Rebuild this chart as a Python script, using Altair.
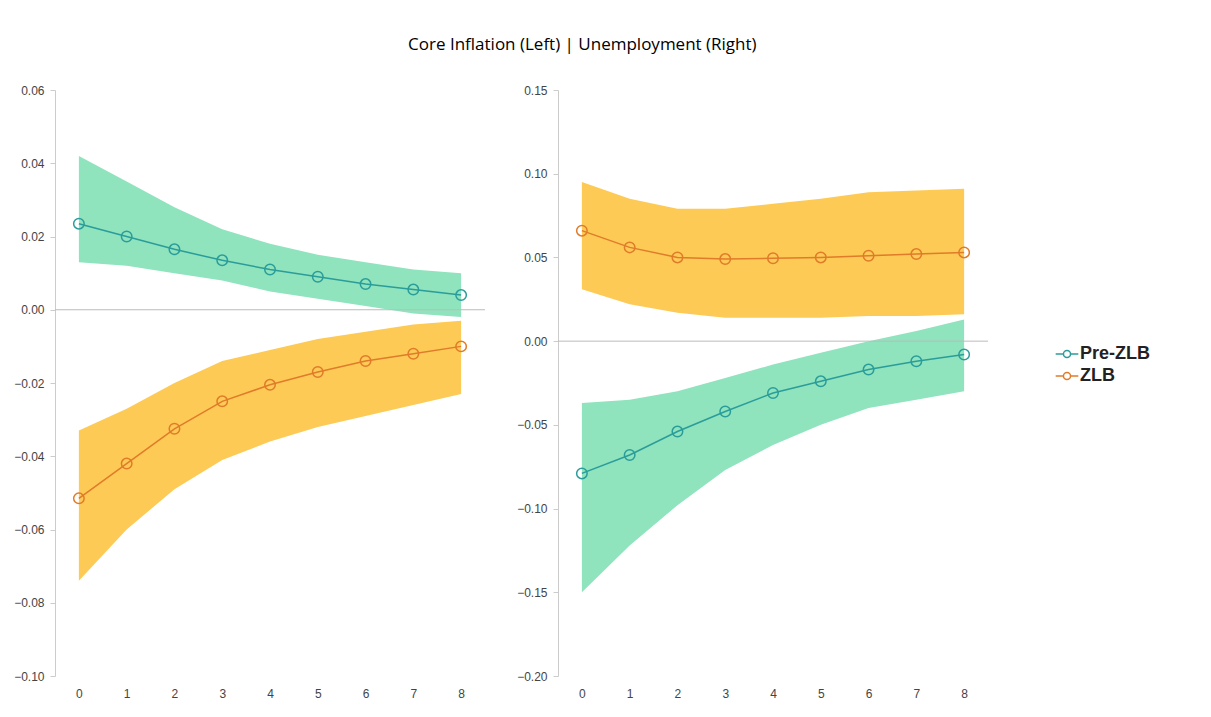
import altair as alt
import pandas as pd

horizon = list(range(9))

# core inflation (left)
infl_pre = [0.0235, 0.020, 0.0165, 0.0135, 0.011, 0.009, 0.007, 0.0055, 0.004]
infl_pre_hi = [0.042, 0.035, 0.028, 0.022, 0.018, 0.015, 0.013, 0.011, 0.010]
infl_pre_lo = [0.013, 0.012, 0.010, 0.008, 0.005, 0.003, 0.001, -0.001, -0.002]
infl_zlb = [-0.0515, -0.042, -0.0325, -0.025, -0.0205, -0.017, -0.014, -0.012, -0.010]
infl_zlb_hi = [-0.033, -0.027, -0.020, -0.014, -0.011, -0.008, -0.006, -0.004, -0.003]
infl_zlb_lo = [-0.074, -0.060, -0.049, -0.041, -0.036, -0.032, -0.029, -0.026, -0.023]

# unemployment (right)
unemp_pre = [-0.079, -0.068, -0.054, -0.042, -0.031, -0.024, -0.017, -0.012, -0.008]
unemp_pre_hi = [-0.037, -0.035, -0.030, -0.022, -0.014, -0.007, 0.000, 0.006, 0.013]
unemp_pre_lo = [-0.150, -0.122, -0.098, -0.077, -0.062, -0.050, -0.040, -0.035, -0.030]
unemp_zlb = [0.066, 0.056, 0.050, 0.049, 0.0495, 0.050, 0.051, 0.052, 0.053]
unemp_zlb_hi = [0.095, 0.085, 0.079, 0.079, 0.082, 0.085, 0.089, 0.090, 0.091]
unemp_zlb_lo = [0.031, 0.022, 0.017, 0.014, 0.014, 0.014, 0.015, 0.015, 0.016]

regimes = ['Pre-ZLB', 'ZLB']
line_colors = ['#2a9d9a', '#e07b2a']
band_colors = ['#8fe3bd', '#fdca55']

line_circle = "M-1.6,0 L-0.5,0 M0.5,0 L1.6,0 M-0.5,0 A0.5,0.5 0 1,1 0.5,0 A0.5,0.5 0 1,1 -0.5,0"


def _frame(pre, pre_lo, pre_hi, zlb, zlb_lo, zlb_hi):
    rows = []
    for h in horizon:
        rows.append(dict(h=h, regime='Pre-ZLB', band='Pre-ZLB band', v=pre[h], lo=pre_lo[h], hi=pre_hi[h]))
        rows.append(dict(h=h, regime='ZLB', band='ZLB band', v=zlb[h], lo=zlb_lo[h], hi=zlb_hi[h]))
    return pd.DataFrame(rows)


def _panel(df, domain, ticks):
    x = alt.X('h:Q', title=None, scale=alt.Scale(domain=[-0.5, 8.5], nice=False),
              axis=alt.Axis(values=horizon, grid=False, domain=False, ticks=False,
                            labelPadding=12, labelFontSize=12, labelColor='#444'))
    y_scale = alt.Scale(domain=domain, nice=False)
    y_axis = alt.Axis(values=ticks, format='.2f', grid=False, domainColor='#ccc',
                      tickColor='#ccc', labelFontSize=12, labelColor='#444', labelPadding=6)
    base = alt.Chart(df)
    band = base.mark_area(opacity=1).encode(
        x=x, y=alt.Y('lo:Q', title=None, scale=y_scale, axis=y_axis), y2='hi:Q',
        fill=alt.Fill('band:N', scale=alt.Scale(domain=['Pre-ZLB band', 'ZLB band'], range=band_colors),
                      legend=None),
        detail='band:N')
    zero = alt.Chart(pd.DataFrame({'z': [0]})).mark_rule(color='#bbb', strokeWidth=1).encode(y='z:Q')
    lcolor = alt.Stroke('regime:N', scale=alt.Scale(domain=regimes, range=line_colors),
                        title=None,
                        legend=alt.Legend(symbolType=line_circle, symbolFillColor='white',
                                          labelFontSize=18, labelFontWeight='bold',
                                          labelColor='#222', symbolSize=200, symbolStrokeWidth=1.5,
                                          orient='none', legendX=1003, legendY=255,
                                          rowPadding=4))
    line = base.mark_line(strokeWidth=1.5).encode(x=x, y='v:Q', stroke=lcolor)
    pts = base.mark_point(filled=False, fill='white', fillOpacity=0, size=110, strokeWidth=1.5).encode(
        x=x, y='v:Q', stroke=lcolor)
    return (band + zero + line + pts).properties(width=430, height=586)


left = _panel(_frame(infl_pre, infl_pre_lo, infl_pre_hi, infl_zlb, infl_zlb_lo, infl_zlb_hi),
              [-0.10, 0.06], [-0.10, -0.08, -0.06, -0.04, -0.02, 0.0, 0.02, 0.04, 0.06])
right = _panel(_frame(unemp_pre, unemp_pre_lo, unemp_pre_hi, unemp_zlb, unemp_zlb_lo, unemp_zlb_hi),
               [-0.20, 0.15], [-0.20, -0.15, -0.10, -0.05, 0.0, 0.05, 0.10, 0.15])

chart = alt.hconcat(left, right, spacing=30).properties(
    padding={"top": 28, "left": 5, "right": 5, "bottom": 5},
    title=alt.TitleParams('Core Inflation (Left) | Unemployment (Right)', fontSize=17,
                          fontWeight='normal', font='Open Sans', offset=30, anchor='middle'),
).configure_view(stroke=None)

chart.save("out.html", embed_options={"renderer": "svg", "actions": False})
